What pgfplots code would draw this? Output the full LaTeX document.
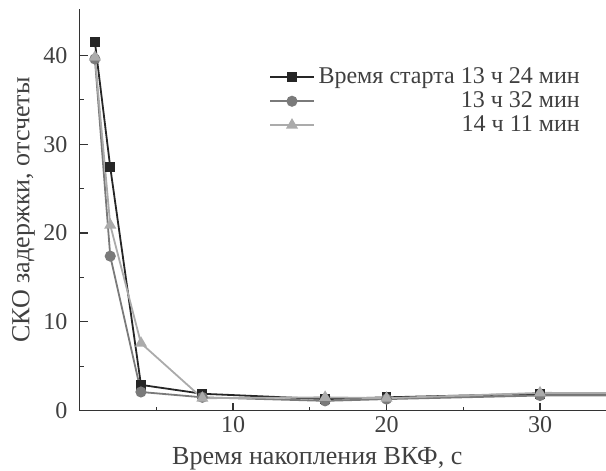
\documentclass[border=0pt]{standalone}
\usepackage{fontspec}
\setmainfont{Liberation Serif}
\usepackage{pgfplots}
\pgfplotsset{compat=1.18}

\definecolor{serA}{HTML}{262626}
\definecolor{serB}{HTML}{7A7A7A}
\definecolor{serC}{HTML}{ABABAB}

\begin{document}
\begin{tikzpicture}
% fix the page to the reference frame (axis box starts at the origin)
\path[use as bounding box] (-39.75pt,-30pt) rectangle (263pt,205.15pt);
\begin{axis}[
    scale only axis,
    width=263pt,
    height=200.5pt,
    xmin=0, xmax=34.3,
    ymin=0, ymax=45.2,
    axis lines=left,
    axis line style={-, line width=0.7pt, color=black!80},
    xtick={10,20,30},
    ytick={0,10,20,30,40},
    minor xtick={5,15,25},
    minor ytick={5,15,25,35},
    tick align=inside,
    major tick length=4pt,
    minor tick length=2pt,
    tick style={line width=0.6pt, color=black!80},
    ticklabel style={font=\fontsize{12}{13}\selectfont, text=black!75},
    xticklabel style={yshift=-1.5pt, inner sep=1pt},
    yticklabel style={xshift=-2.5pt},
    /pgf/number format/assume math mode=true,
    xlabel={Время накопления ВКФ, с},
    ylabel={СКО задержки, отсчеты},
    label style={font=\fontsize{13}{14}\selectfont, text=black!75},
    xlabel style={at={(axis description cs:0.4515,-0.121)}, anchor=center, inner sep=1pt},
    ylabel style={at={(axis description cs:-0.1065,0.5)}, anchor=center},
    legend style={draw=none, fill=none, at={(0.97,0.875)}, anchor=north east,
        font=\fontsize{12}{13}\selectfont, text=black!75, row sep=-1.5pt},
    legend cell align=right,
    legend image code/.code={
        \draw[mark repeat=2,mark phase=2] plot coordinates {(0cm,0cm) (0.38cm,0cm) (0.76cm,0cm)};
    },
]
\addplot[color=serA, line width=0.9pt, mark=square*, mark size=2pt] coordinates {
 (1,41.5) (2,27.4) (4,2.9) (8,1.9) (16,1.3) (20,1.5) (30,1.9) (60,1.9)};
\addplot[color=serB, line width=0.9pt, mark=*, mark size=2.3pt] coordinates {
 (1,39.6) (2,17.4) (4,2.1) (8,1.5) (16,1.1) (20,1.3) (30,1.7) (60,1.8)};
\addplot[color=serC, line width=0.9pt, mark=triangle*, mark size=2.6pt] coordinates {
 (1,39.8) (2,20.9) (4,7.6) (8,1.4) (16,1.5) (20,1.4) (30,2.0) (60,1.9)};
\legend{Время старта 13 ч 24 мин, 13 ч 32 мин, 14 ч 11 мин}
\end{axis}
\end{tikzpicture}
\end{document}
